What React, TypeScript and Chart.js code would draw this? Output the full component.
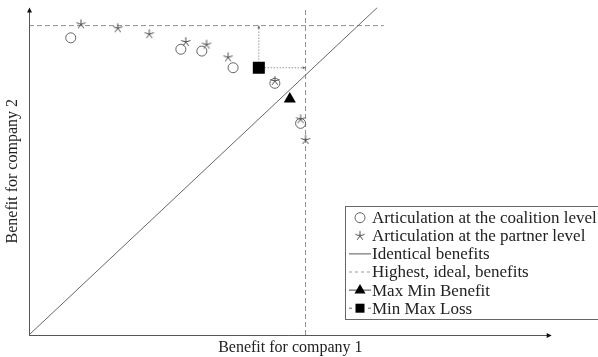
import React, { useEffect, useRef } from "react";
import { Chart, registerables } from "chart.js";
Chart.register(...registerables);

// ---- data ----
const coalitionX = [1.51, 5.49, 6.25, 7.38, 8.89, 9.82];
const coalitionY = [11.43, 10.99, 10.92, 10.28, 9.68, 8.14];
const partnerX = [1.88, 3.21, 4.35, 5.67, 6.42, 7.2, 8.89, 9.82, 10.0];
const partnerY = [11.95, 11.8, 11.57, 11.27, 11.17, 10.68, 9.77, 8.3, 7.5];
const idealX = 10;
const idealY = 11.9;
const idealLineEndX = 12.83;
const identicalEnd = 12.6;
const maxMinX = [9.43];
const maxMinY = [9.08];
const minMaxX = [8.31];
const minMaxY = [10.28];
const xMax = 18.9;
const yMax = 12.6;
const legendLabels = [
  "Articulation at the coalition level",
  "Articulation at the partner level",
  "Identical benefits",
  "Highest, ideal, benefits",
  "Max Min Benefit",
  "Min Max Loss",
];
const xTitle = "Benefit for company 1";
const yTitle = "Benefit for company 2";

const MARK = "#555";
const STAR = "#4a4a4a";
const DASH = "#909090";
const SERIF = "'Liberation Serif', 'Times New Roman', serif";

function makeStar(r: number, color: string) {
  const c = document.createElement("canvas");
  const s = Math.ceil(r * 2 + 2);
  c.width = s;
  c.height = s;
  const ctx = c.getContext("2d")!;
  ctx.strokeStyle = color;
  ctx.lineWidth = 1;
  ctx.beginPath();
  for (let k = 0; k < 5; k++) {
    const a = -Math.PI / 2 + (k * 2 * Math.PI) / 5;
    ctx.moveTo(s / 2, s / 2);
    ctx.lineTo(s / 2 + r * Math.cos(a), s / 2 + r * Math.sin(a));
  }
  ctx.stroke();
  return c;
}

export default function App() {
  const ref = useRef<HTMLCanvasElement>(null);
  useEffect(() => {
    const star = makeStar(4.8, STAR);
    const pts = (xs: number[], ys: number[]) => xs.map((x, i) => ({ x, y: ys[i] }));

    const overlay = {
      id: "overlay",
      afterDraw(chart: any) {
        const ctx: CanvasRenderingContext2D = chart.ctx;
        const xs = chart.scales.x;
        const ys = chart.scales.y;
        const x0 = xs.getPixelForValue(0);
        const y0 = ys.getPixelForValue(0);
        const xE = xs.getPixelForValue(xMax);
        const yE = ys.getPixelForValue(yMax);
        ctx.save();
        // axes
        ctx.strokeStyle = "#555";
        ctx.lineWidth = 1;
        ctx.beginPath();
        ctx.moveTo(x0, y0 + 0.5);
        ctx.lineTo(xE - 3, y0 + 0.5);
        ctx.moveTo(x0 + 0.5, y0);
        ctx.lineTo(x0 + 0.5, yE + 3);
        ctx.stroke();
        ctx.fillStyle = "#111";
        ctx.beginPath();
        ctx.moveTo(xE, y0 + 0.5);
        ctx.lineTo(xE - 5, y0 - 2);
        ctx.lineTo(xE - 5, y0 + 3);
        ctx.closePath();
        ctx.fill();
        ctx.beginPath();
        ctx.moveTo(x0 + 0.5, yE);
        ctx.lineTo(x0 - 2, yE + 5);
        ctx.lineTo(x0 + 3, yE + 5);
        ctx.closePath();
        ctx.fill();

        // small arrow tips of the dotted min-max-loss lines
        const sx = xs.getPixelForValue(minMaxX[0]);
        const sy = ys.getPixelForValue(minMaxY[0]);
        const iy = ys.getPixelForValue(idealY);
        const ix = xs.getPixelForValue(idealX);
        ctx.fillStyle = "#666";
        ctx.beginPath();
        ctx.moveTo(sx, iy);
        ctx.lineTo(sx - 1.5, iy + 3);
        ctx.lineTo(sx + 1.5, iy + 3);
        ctx.closePath();
        ctx.fill();
        ctx.beginPath();
        ctx.moveTo(ix, sy);
        ctx.lineTo(ix - 3, sy - 1.5);
        ctx.lineTo(ix - 3, sy + 1.5);
        ctx.closePath();
        ctx.fill();

        // axis titles
        ctx.fillStyle = "#222";
        ctx.font = `16px ${SERIF}`;
        ctx.textAlign = "center";
        ctx.textBaseline = "middle";
        ctx.fillText(xTitle, (x0 + xE) / 2, 348);
        ctx.save();
        ctx.translate(13, (y0 + yE) / 2);
        ctx.rotate(-Math.PI / 2);
        ctx.fillText(yTitle, 0, 0);
        ctx.restore();

        // legend
        const lx = 345;
        const ly = 206;
        ctx.strokeStyle = "#666";
        ctx.lineWidth = 1;
        ctx.strokeRect(lx + 0.5, ly + 0.5, 300, 113);
        const ix0 = 360;
        const tx = 372;
        const rowY = (i: number) => 217.7 + i * 18.1;
        ctx.font = `17px ${SERIF}`;
        ctx.textAlign = "left";
        ctx.textBaseline = "middle";
        ctx.fillStyle = "#222";
        legendLabels.forEach((t, i) => ctx.fillText(t, tx, rowY(i) + 1));
        // icons
        ctx.strokeStyle = MARK;
        ctx.lineWidth = 0.9;
        ctx.beginPath();
        ctx.arc(ix0, rowY(0), 5, 0, Math.PI * 2);
        ctx.stroke();
        ctx.drawImage(star, ix0 - star.width / 2, rowY(1) - star.height / 2);
        ctx.strokeStyle = "#444";
        ctx.beginPath();
        ctx.moveTo(349, rowY(2));
        ctx.lineTo(371, rowY(2));
        ctx.stroke();
        ctx.strokeStyle = DASH;
        ctx.setLineDash([3, 3]);
        ctx.beginPath();
        ctx.moveTo(349, rowY(3));
        ctx.lineTo(371, rowY(3));
        ctx.stroke();
        ctx.setLineDash([]);
        ctx.strokeStyle = "#333";
        ctx.beginPath();
        ctx.moveTo(349, rowY(4));
        ctx.lineTo(371, rowY(4));
        ctx.stroke();
        ctx.fillStyle = "#000";
        ctx.beginPath();
        ctx.moveTo(ix0, rowY(4) - 6);
        ctx.lineTo(ix0 + 5.5, rowY(4) + 3.5);
        ctx.lineTo(ix0 - 5.5, rowY(4) + 3.5);
        ctx.closePath();
        ctx.fill();
        ctx.strokeStyle = "#555";
        ctx.beginPath();
        ctx.moveTo(349, rowY(5));
        ctx.lineTo(352, rowY(5));
        ctx.moveTo(368, rowY(5));
        ctx.lineTo(371, rowY(5));
        ctx.stroke();
        ctx.fillRect(ix0 - 4.5, rowY(5) - 4.5, 9, 9);
        ctx.restore();
      },
    };

    const chart = new Chart(ref.current!, {
      type: "scatter",
      data: {
        datasets: [
          {
            label: legendLabels[0],
            data: pts(coalitionX, coalitionY),
            pointStyle: "circle",
            pointRadius: 5,
            borderColor: MARK,
            backgroundColor: "rgba(0,0,0,0)",
            borderWidth: 0.9,
            order: 0,
          },
          {
            label: legendLabels[1],
            data: pts(partnerX, partnerY),
            pointStyle: star as any,
            borderColor: MARK,
            order: 0,
          },
          {
            label: legendLabels[2],
            data: [
              { x: 0, y: 0 },
              { x: identicalEnd, y: identicalEnd },
            ],
            showLine: true,
            pointRadius: 0,
            borderColor: "#555",
            borderWidth: 0.9,
            order: 2,
          },
          {
            label: legendLabels[3],
            data: [
              { x: 0, y: idealY },
              { x: idealLineEndX, y: idealY },
            ],
            showLine: true,
            pointRadius: 0,
            borderColor: DASH,
            borderWidth: 1,
            borderDash: [5, 3],
            order: 2,
          },
          {
            label: legendLabels[3] + " x",
            data: [
              { x: idealX, y: 0 },
              { x: idealX, y: yMax },
            ],
            showLine: true,
            pointRadius: 0,
            borderColor: DASH,
            borderWidth: 1,
            borderDash: [5, 3],
            order: 2,
          },
          {
            label: legendLabels[4],
            data: pts(maxMinX, maxMinY),
            pointStyle: "triangle",
            pointRadius: 7,
            backgroundColor: "#000",
            borderColor: "#000",
            borderWidth: 0,
            order: 0,
          },
          {
            label: legendLabels[5],
            data: [
              { x: minMaxX[0], y: idealY },
              { x: minMaxX[0], y: minMaxY[0] },
              { x: idealX, y: minMaxY[0] },
            ],
            showLine: true,
            borderColor: "#666",
            borderWidth: 1,
            borderDash: [1, 2],
            pointStyle: "rect",
            pointRadius: [0, 8.5, 0],
            backgroundColor: "#000",
            pointBorderWidth: 0,
            order: 1,
          },
        ],
      },
      options: {
        animation: false,
        responsive: false,
        events: [],
        layout: { autoPadding: false, padding: { left: 29, right: 46.3, top: 7.4, bottom: 22 } },
        scales: {
          x: { type: "linear", min: 0, max: xMax, display: false },
          y: { type: "linear", min: 0, max: yMax, display: false },
        },
        plugins: { legend: { display: false }, tooltip: { enabled: false } },
      } as any,
      plugins: [overlay],
    });
    return () => chart.destroy();
  }, []);

  return (
    <div style={{ position: "fixed", left: 0, top: 0, width: 598, height: 357, background: "#fff" }}>
      <canvas ref={ref} width={598} height={357} style={{ width: 598, height: 357 }} />
    </div>
  );
}
